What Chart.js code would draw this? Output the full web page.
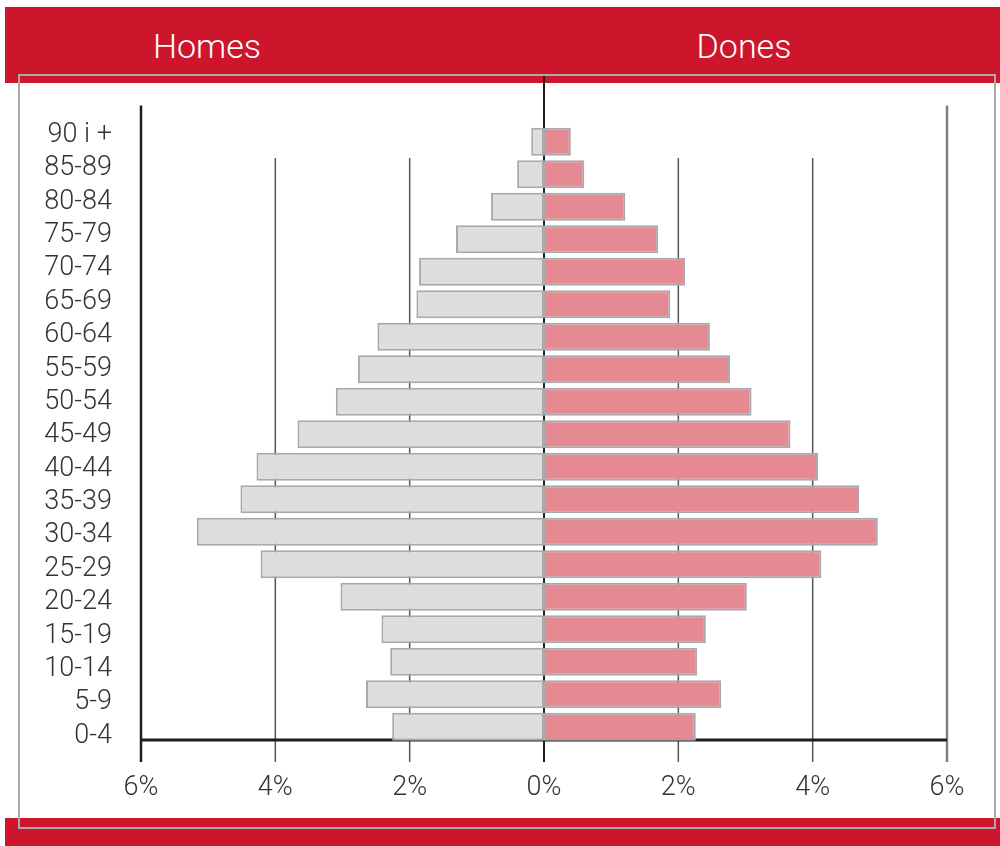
<!DOCTYPE html>
<html>
<head>
<meta charset="utf-8">
<script src="https://cdn.jsdelivr.net/npm/chart.js@4/dist/chart.umd.min.js"></script>
<style>
    html, body { margin: 0; padding: 0; background: #fff; }
    body { width: 1000px; height: 846px; position: relative; overflow: hidden; font-family: Roboto, "Liberation Sans", sans-serif; }
    .band { position: absolute; left: 5px; width: 995px; background: #cd152b; }
    .band.top { top: 7px; height: 76px; }
    .band.bottom { top: 818px; height: 28px; }
    .title { position: absolute; top: 26px; width: 300px; text-align: center; color: #fff; font-size: 34px; font-weight: 300; line-height: 40px; }
    #wrap { position: absolute; left: 0; top: 74px; width: 1000px; height: 738px; }
    .frame { position: absolute; left: 18px; top: 74px; width: 978px; height: 755px; box-sizing: border-box; border: 2px solid #aaa; pointer-events: none; }
</style>
</head>
<body>
<div class="band top"></div>
<div class="band bottom"></div>
<div class="title" style="left:57px">Homes</div>
<div class="title" style="left:594px">Dones</div>
<div id="wrap"><canvas id="pyramid"></canvas></div>
<div class="frame"></div>

<script>
// Dades de la piràmide (% de població)
const ageGroups = ['90 i +', '85-89', '80-84', '75-79', '70-74', '65-69', '60-64', '55-59', '50-54',
    '45-49', '40-44', '35-39', '30-34', '25-29', '20-24', '15-19', '10-14', '5-9', '0-4'];
const homes = [0.19, 0.40, 0.79, 1.31, 1.86, 1.90, 2.48, 2.77, 3.10,
    3.67, 4.28, 4.52, 5.17, 4.22, 3.03, 2.42, 2.29, 2.65, 2.26];
const dones = [0.40, 0.60, 1.21, 1.70, 2.10, 1.88, 2.47, 2.77, 3.09,
    3.67, 4.08, 4.69, 4.97, 4.13, 3.02, 2.41, 2.28, 2.64, 2.26];
const xTicks = [-6, -4, -2, 0, 2, 4, 6];

const labelFont = { family: 'Roboto, "Liberation Sans", sans-serif', size: 27, weight: 300 };

// línies verticals i eix inferior, per sota de les barres
const gridLinesPlugin = {
    id: 'gridLines',
    beforeDatasetsDraw(chart) {
        const { ctx, chartArea, scales: { x, y } } = chart;
        const rowEdge = (y.getPixelForValue(0) + y.getPixelForValue(1)) / 2;
        const bottom = chartArea.bottom + 19;

        ctx.save();
        xTicks.forEach(v => {
            const px = x.getPixelForValue(v);
            let top = rowEdge, color = '#555', width = 1.5;
            if (v === 0) { top = 0; color = '#1e1e1e'; width = 2; }
            else if (v === -6) { top = chartArea.top - 20; color = '#1e1e1e'; width = 2.5; }
            else if (v === 6) { top = chartArea.top - 20; color = '#808080'; width = 2.5; }
            ctx.beginPath();
            ctx.strokeStyle = color;
            ctx.lineWidth = width;
            ctx.moveTo(px, top);
            ctx.lineTo(px, bottom);
            ctx.stroke();
        });

        const axisY = chartArea.bottom - 3;
        ctx.beginPath();
        ctx.strokeStyle = '#1e1e1e';
        ctx.lineWidth = 3;
        ctx.moveTo(x.getPixelForValue(-6) - 1, axisY);
        ctx.lineTo(x.getPixelForValue(6), axisY);
        ctx.stroke();
        ctx.restore();
    }
};

const ctx = document.getElementById('pyramid').getContext('2d');
new Chart(ctx, {
    type: 'bar',
    data: {
        labels: ageGroups,
        datasets: [{
            label: 'Homes',
            data: homes.map(v => -v),
            backgroundColor: '#dcdddf',
            borderColor: '#a7a9ac',
            borderWidth: 2,
            borderSkipped: false
        }, {
            label: 'Dones',
            data: dones,
            backgroundColor: '#e58a93',
            borderColor: '#a7a9ac',
            borderWidth: 2,
            borderSkipped: false
        }]
    },
    options: {
        indexAxis: 'y',
        responsive: true,
        maintainAspectRatio: false,
        animation: false,
        layout: { padding: { top: 51.5, right: 53, left: 0, bottom: 0 } },
        datasets: { bar: { categoryPercentage: 1, barPercentage: 0.862 } },
        plugins: { legend: { display: false }, tooltip: { enabled: false } },
        scales: {
            x: {
                stacked: true,
                min: -6,
                max: 6,
                grid: { display: false },
                border: { display: false },
                afterBuildTicks: scale => { scale.ticks = xTicks.map(v => ({ value: v })); },
                afterFit: scale => { scale.height = 69; },
                ticks: {
                    padding: 21,
                    color: '#333',
                    font: labelFont,
                    callback: v => Math.abs(v) + '%'
                }
            },
            y: {
                stacked: true,
                display: false
            },
            // eix només per a les etiquetes d'edat (espaiat una mica diferent de les barres)
            ages: {
                type: 'linear',
                position: 'left',
                reverse: true,
                offset: false,
                min: -0.29,
                max: 18.21,
                grid: { display: false, drawTicks: false },
                border: { display: false },
                afterBuildTicks: scale => { scale.ticks = ageGroups.map((_, i) => ({ value: i })); },
                afterFit: scale => { scale.width = 141; },
                ticks: {
                    autoSkip: false,
                    padding: 29,
                    color: '#333',
                    font: labelFont,
                    callback: v => ageGroups[v]
                }
            }
        }
    },
    plugins: [gridLinesPlugin]
});
</script>
</body>
</html>
